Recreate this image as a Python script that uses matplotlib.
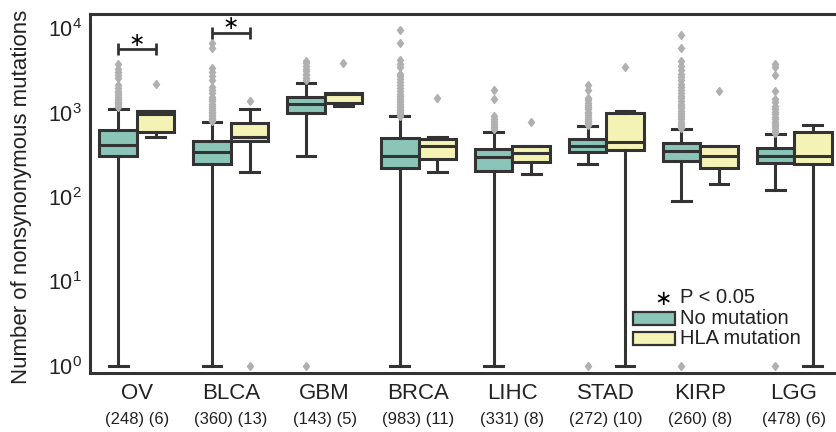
import matplotlib
matplotlib.use("Agg")
import matplotlib.pyplot as plt
from matplotlib.patches import Rectangle

plt.rcParams["font.family"] = ["Liberation Sans", "DejaVu Sans"]
plt.rcParams["mathtext.fontset"] = "custom"
plt.rcParams["mathtext.rm"] = "Liberation Sans"
plt.rcParams["mathtext.it"] = "Liberation Sans:italic"

# ---- data -------------------------------------------------------------
cancers = ["OV", "BLCA", "GBM", "BRCA", "LIHC", "STAD", "KIRP", "LGG"]
n_no = [248, 360, 143, 983, 331, 272, 260, 478]
n_hla = [6, 13, 5, 11, 8, 10, 8, 6]

# box statistics, "No mutation" group
no_q1 = [306, 248, 995, 219, 203, 338, 267, 250]
no_med = [412, 341, 1250, 308, 300, 402, 353, 306]
no_q3 = [621, 460, 1538, 495, 367, 490, 432, 380]
no_lo = [1, 1, 306, 1, 1, 244, 90, 121]
no_hi = [1091, 766, 2253, 909, 593, 698, 633, 552]
no_fliers = [
    [1170, 1210, 1250, 1300, 1350, 1400, 1460, 1530, 1600, 1700, 1820, 1950,
     2100, 2550, 2750, 3000, 3300, 3800],
    [800, 830, 860, 900, 940, 980, 1030, 1080, 1130, 1200, 1280, 1360, 1450,
     1550, 1700, 1850, 2000, 2450, 2700, 3000, 3400, 5800, 6600],
    [1, 2450, 2600, 2750, 2900, 3100, 3300, 3600, 3900, 4100],
    [920, 950, 980, 1020, 1060, 1100, 1150, 1200, 1260, 1320, 1400, 1480,
     1570, 1680, 1800, 1950, 2100, 2300, 2500, 2700, 2900, 3500, 3800, 4200,
     6600, 9500],
    [640, 680, 720, 760, 800, 850, 900, 1430, 1850],
    [1, 720, 760, 800, 840, 880, 930, 980, 1030, 1090, 1150, 1220, 1300,
     1400, 1500, 1850, 2100],
    [1, 660, 700, 740, 780, 830, 880, 930, 990, 1050, 1120, 1200, 1280, 1370,
     1470, 1580, 1700, 1850, 2000, 2200, 2400, 2650, 2900, 3200, 3600, 4100,
     5800, 8200],
    [1, 580, 610, 650, 690, 730, 780, 830, 890, 950, 1020, 1100, 1200, 1320,
     1450, 1800, 2800, 3500, 3800],
]

# box statistics, "HLA mutation" group
hla_q1 = [593, 460, 1285, 282, 257, 360, 219, 244]
hla_med = [952, 517, 1655, 402, 329, 448, 308, 308]
hla_q3 = [1050, 745, 1725, 486, 405, 995, 402, 593]
hla_lo = [517, 198, 1203, 199, 187, 1, 142, 1]
hla_hi = [1050, 1091, 1725, 509, 405, 1050, 402, 711]
hla_fliers = [[2170], [1, 1370], [3820], [1500], [780], [3480], [1810], []]

# significant comparisons (category index, bracket height)
sig_idx = [0, 1]
sig_y = [5600, 8800]

labels = ["No mutation", "HLA mutation"]
teal = "#8ac5b8"
yellow = "#f4f3b5"
dark = "#333333"
text_col = "#222222"
flier_gray = "#b0b0b0"

# ---- figure -------------------------------------------------------------
fig = plt.figure(figsize=(8.37, 4.32), dpi=100)
ax = fig.add_axes([90 / 837, 1 - 373.3 / 432, 751 / 837, 359.3 / 432])


def make_stats(q1, med, q3, lo, hi, fl):
    return [dict(q1=a, med=b, q3=c, whislo=d, whishi=e, fliers=f)
            for a, b, c, d, e, f in zip(q1, med, q3, lo, hi, fl)]


common = dict(
    widths=0.4, capwidths=0.2, patch_artist=True, manage_ticks=False,
    boxprops=dict(edgecolor=dark, linewidth=2.2),
    medianprops=dict(color=dark, linewidth=2.2),
    whiskerprops=dict(color=dark, linewidth=2.2),
    capprops=dict(color=dark, linewidth=2.2),
    flierprops=dict(marker="d", markersize=4.5, markerfacecolor=flier_gray,
                    markeredgecolor=flier_gray, linestyle="none"),
)

pos = list(range(len(cancers)))
b1 = ax.bxp(make_stats(no_q1, no_med, no_q3, no_lo, no_hi, no_fliers),
            positions=[p - 0.2 for p in pos], **common)
b2 = ax.bxp(make_stats(hla_q1, hla_med, hla_q3, hla_lo, hla_hi, hla_fliers),
            positions=[p + 0.2 for p in pos], **common)
for box in b1["boxes"]:
    box.set_facecolor(teal)
for box in b2["boxes"]:
    box.set_facecolor(yellow)

# significance brackets
for i, y in zip(sig_idx, sig_y):
    ax.plot([i - 0.2, i + 0.2], [y, y], color=dark, lw=2.0,
            marker="|", markersize=9, mew=2.0, solid_capstyle="butt")
    ax.annotate("\u2217", xy=(i, y), xytext=(0, 6.5), textcoords="offset points",
                ha="center", va="center", fontsize=14, family="DejaVu Sans")

ax.set_yscale("log")
ax.set_ylim(0.82, 14700)
ax.set_xlim(-0.5, len(cancers) - 0.5)
ax.set_yticks([1, 10, 100, 1000, 10000])
ax.set_yticklabels([r"$10^{%d}$" % k for k in range(5)])
ax.minorticks_off()
ax.set_xticks(pos)
ax.set_xticklabels(cancers)
ax.tick_params(axis="x", length=0, pad=7, labelsize=16, colors=text_col)
ax.tick_params(axis="y", length=0, pad=6, labelsize=15.5, colors=text_col)

for i, (a, b) in enumerate(zip(n_no, n_hla)):
    ax.annotate(f"({a}) ({b})", xy=(i, 0), xycoords=("data", "axes fraction"),
                xytext=(0, -33.6), textcoords="offset points",
                ha="center", va="center", fontsize=12, color=text_col)

ax.set_ylabel("Number of nonsynonymous mutations", fontsize=16, color=text_col)
ax.yaxis.set_label_coords(-0.077, 0.49)

for side in ["left", "bottom", "top", "right"]:
    ax.spines[side].set_color(dark)
    ax.spines[side].set_linewidth(2.2)

# key
ax.text(0.763, 0.206, "\u2217", transform=ax.transAxes, ha="center",
        va="center", fontsize=15, family="DejaVu Sans")
ax.text(0.786, 0.2096, "P < 0.05", transform=ax.transAxes, ha="left",
        va="center", fontsize=14.5, color=text_col)
for (y0, y1), col, lab in zip([(0.134, 0.171), (0.079, 0.115)],
                              [teal, yellow], labels):
    ax.add_patch(Rectangle((0.723, y0), 0.056, y1 - y0, transform=ax.transAxes,
                           facecolor=col, edgecolor=dark, lw=1.6,
                           clip_on=False))
    ax.text(0.786, (y0 + y1) / 2, lab, transform=ax.transAxes, ha="left",
            va="center", fontsize=14.5, color=text_col)

fig.savefig("out.png", dpi=100)
